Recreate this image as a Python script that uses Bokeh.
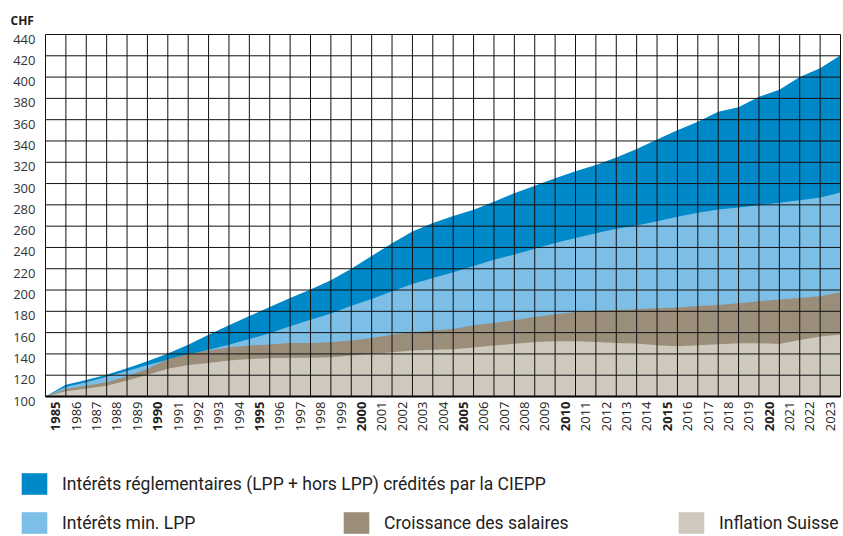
import math
from bokeh.plotting import figure
from bokeh.models import (ColumnDataSource, Range1d, LabelSet, Label, Legend, LegendItem)
from bokeh.core.properties import value, field
from bokeh.embed import file_html
from bokeh.resources import INLINE

# ---------------- data ----------------
years = list(range(1985, 2024))                 # tick labels (one per year column)
bold_years = [1985, 1990, 1995, 2000, 2005, 2010, 2015, 2020]
x_points = list(range(1985, 2025))              # year boundaries (start 1985 ... end 2023)
y_ticks = list(range(100, 441, 20))

ciepp = [100, 111, 115.5, 120.5, 126.5, 133, 140.5, 148.5, 158, 167,
         175.5, 184, 192.5, 200.5, 209.3, 220, 232, 244, 255, 263,
         269.5, 275.5, 283, 291, 298, 305, 311.5, 317.5, 324.5, 332.5,
         341.3, 350, 358, 367.5, 371.7, 381.5, 388, 400, 408.3, 420.5]
lpp_min = [100, 109, 113.5, 118.5, 124, 129.5, 134.5, 139, 144, 148.5,
           154, 159.5, 166, 172, 178, 185.3, 191.6, 198.8, 205.6, 211.3,
           216.6, 222.5, 228.4, 233.4, 238.8, 244.1, 248.8, 253.3, 257.5, 260.6,
           264.7, 268.8, 272.5, 275.6, 277.5, 279.7, 282, 284.4, 287, 291.5]
salaires = [100, 107, 110, 113.5, 119, 126, 135, 140, 143.1, 146.3,
            147.8, 148.8, 150.3, 150.2, 150.9, 152.5, 155, 158.1, 160, 161.9,
            163.4, 166.9, 169.1, 171.6, 174.7, 177.2, 179.4, 180.5, 181.3, 182,
            182.8, 183.7, 185, 186, 187.6, 189.5, 191, 192.5, 194.2, 197.8]
inflation = [100, 105, 107.5, 110, 115, 120.5, 126, 129.5, 131.5, 133.8,
             135.3, 135.9, 136.3, 136.5, 136.9, 138.4, 140, 141.6, 143.1, 143.8,
             144.4, 146, 147.9, 149.5, 151.1, 152, 152, 151.1, 150.3, 149.7,
             148.1, 147.2, 148.1, 149.1, 150, 150, 149.4, 153, 156.3, 158.3]

series_names = ["Intérêts réglementaires (LPP + hors LPP) crédités par la CIEPP",
                "Intérêts min. LPP", "Croissance des salaires", "Inflation Suisse"]
series_colors = ["#0089C8", "#7CBEE6", "#9A8E7A", "#CFC8BC"]
baseline = y_ticks[0]

# ---------------- canvas geometry (pixels) ----------------
W, H = 843, 536
PL, PR, PT, PB = 45, 840, 34, 396          # plot area edges on the canvas
FONT = "Open Sans"
LEG_FONT = "Liberation Sans Narrow, Arial Narrow, Roboto, sans-serif"

ppx = (PR - PL) / (x_points[-1] - x_points[0])      # pixels per year
ppy = (PB - PT) / (y_ticks[-1] - y_ticks[0])        # pixels per CHF
x_range = Range1d(x_points[0] - PL / ppx, x_points[-1] + (W - PR) / ppx)
y_range = Range1d(y_ticks[0] - (H - PB) / ppy, y_ticks[-1] + PT / ppy)

p = figure(width=W, height=H, x_range=x_range, y_range=y_range, title=None,
           output_backend="svg", toolbar_location=None,
           min_border_left=0, min_border_right=0, min_border_top=0, min_border_bottom=0)
p.axis.visible = False
p.grid.visible = False
p.outline_line_color = None
p.background_fill_color = "white"
p.border_fill_color = "white"

# ---------------- areas ----------------
src = ColumnDataSource(dict(x=x_points, ciepp=ciepp, lpp=lpp_min, sal=salaires, infl=inflation))
renderers = []
for col, color in zip(["ciepp", "lpp", "sal", "infl"], series_colors):
    renderers.append(p.varea(x="x", y1=baseline, y2=col, source=src,
                             fill_color=color, fill_alpha=1))

# ---------------- grid (drawn over the areas) ----------------
vgrid = ColumnDataSource(dict(x=x_points, y0=[y_ticks[0]] * len(x_points),
                              y1=[y_ticks[-1]] * len(x_points)))
hgrid = ColumnDataSource(dict(y=y_ticks, x0=[x_points[0]] * len(y_ticks),
                              x1=[x_points[-1]] * len(y_ticks)))
p.segment(x0="x", y0="y0", x1="x", y1="y1", source=vgrid, line_color="#111111", line_width=1)
p.segment(x0="x0", y0="y", x1="x1", y1="y", source=hgrid, line_color="#111111", line_width=1)
p.segment(x0=[x_points[0]], y0=[baseline], x1=[x_points[-1]], y1=[baseline],
          line_color="black", line_width=2)

# ---------------- texts ----------------
p.add_layout(Label(x=10, y=H - 11, x_units="screen", y_units="screen", text="CHF",
                   text_font=FONT, text_font_size="12px", text_font_style="bold",
                   text_color="#1a1a1a", text_baseline="top"))

yl_src = ColumnDataSource(dict(y=y_ticks, text=[str(v) for v in y_ticks]))
p.add_layout(LabelSet(x=PL - 10, x_units="screen", y="y", text="text", source=yl_src,
                      text_align="right", text_baseline="top",
                      text_font=value(FONT), text_font_size="13px",
                      text_color="#333333"))

xl_src = ColumnDataSource(dict(
    x=[y + 0.5 for y in years],
    text=[str(y) for y in years],
    style=["bold" if y in bold_years else "normal" for y in years],
))
p.add_layout(LabelSet(x="x", y=H - PB - 5, y_units="screen", text="text", source=xl_src,
                      angle=math.pi / 2, text_align="right", text_baseline="middle",
                      text_font=value(FONT), text_font_size="13px",
                      text_font_style=field("style"), text_color="#222222"))

# ---------------- legend ----------------
leg_pos = [(18, 39), (18, 0), (340, 0), (675, 0)]
for name, r, loc in zip(series_names, renderers, leg_pos):
    leg = Legend(items=[LegendItem(label=name, renderers=[r])], location=loc,
                 orientation="horizontal", glyph_width=32, glyph_height=27,
                 label_standoff=12, padding=0, margin=0, spacing=0,
                 border_line_alpha=0, background_fill_alpha=0,
                 label_text_font=LEG_FONT,
                 label_text_font_size="17.5px", label_text_color="#222222")
    p.add_layout(leg, "center")

open("out.html", "w").write(file_html(p, INLINE))
